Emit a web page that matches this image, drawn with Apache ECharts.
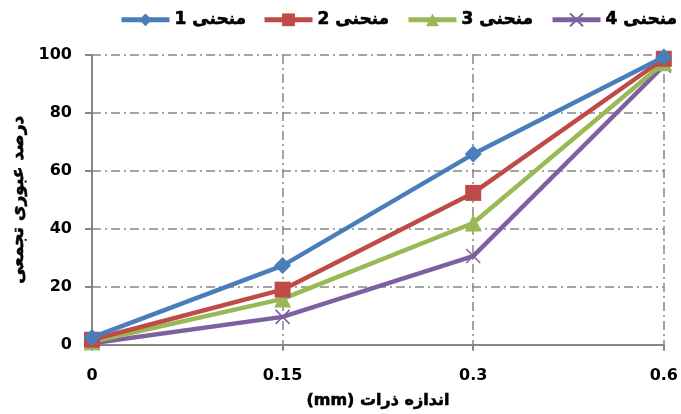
<!DOCTYPE html>
<html>
<head>
<meta charset="utf-8">
<script src="https://cdn.jsdelivr.net/npm/echarts@6/dist/echarts.min.js"></script>
<style>
html,body{margin:0;padding:0;background:#fff;}
#c{width:681px;height:414px;}
</style>
</head>
<body>
<div id="c" dir="rtl"></div>
<script>
const categories = ['0', '0.15', '0.3', '0.6'];
const seriesNames = ['منحنی 1', 'منحنی 2', 'منحنی 3', 'منحنی 4'];
const curve1 = [2.5, 27.3, 65.8, 99.3];
const curve2 = [1.7, 19.0, 52.4, 98.7];
const curve3 = [1.0, 15.8, 42.0, 97.3];
const curve4 = [0.5, 9.6, 30.6, 96.3];
const yTicks = [0, 20, 40, 60, 80, 100];
const xTitle = 'اندازه ذرات (mm)';
const yTitle = 'درصد عبوری تجمعی';

const colors = ['#4A7EBB', '#BE4B48', '#98B954', '#7D60A0'];
const symbols = ['diamond', 'rect', 'triangle', 'path://M0,0L10,10M10,0L0,10'];
const symbolSizes = [17, 16, 17, 14];
const values = [curve1, curve2, curve3, curve4];
const legendLefts = [119, 262, 406, 550];
const FONT = '"DejaVu Sans", "Liberation Sans", sans-serif';
const grid = 'rgba(134,134,134,1)';
const boldText = {fontFamily: FONT, fontWeight: 'bold', fontSize: 16, color: '#000', textBorderColor: '#000', textBorderWidth: 0.6};

const chart = echarts.init(document.getElementById('c'), null, {renderer: 'canvas'});
chart.setOption({
  animation: false,
  backgroundColor: '#fff',
  color: colors,
  legend: seriesNames.map((n, i) => ({
    left: legendLefts[i], top: 11, padding: 0,
    itemWidth: 48, itemHeight: 16, itemGap: 0,
    lineStyle: {width: 5},
    textStyle: Object.assign({}, boldText, {fontSize: 17}),
    data: [n]
  })),
  grid: {left: 92, right: 14, top: 55, bottom: 66, containLabel: false},
  xAxis: {
    type: 'category',
    data: categories,
    boundaryGap: false,
    name: xTitle,
    nameLocation: 'middle',
    nameGap: 48,
    nameTextStyle: boldText,
    axisLine: {lineStyle: {color: grid, width: 2}},
    axisTick: {show: true, alignWithLabel: true, length: 6, inside: false, lineStyle: {color: grid, width: 2}},
    axisLabel: {margin: 23, fontFamily: FONT, fontWeight: 'bold', fontSize: 16, color: '#000'},
    splitLine: {show: true, lineStyle: {color: grid, width: 1.5, type: [9, 4, 2, 4]}}
  },
  yAxis: {
    type: 'value',
    min: 0, max: 100, interval: 20,
    name: yTitle,
    nameLocation: 'middle',
    nameGap: 62,
    nameRotate: 90,
    nameTextStyle: Object.assign({}, boldText, {fontSize: 17}),
    axisLine: {show: true, lineStyle: {color: grid, width: 2}},
    axisTick: {show: true, length: 7, lineStyle: {color: grid, width: 2}},
    axisLabel: {margin: 20, fontFamily: FONT, fontWeight: 'bold', fontSize: 16, color: '#000',
      formatter: v => yTicks.includes(v) ? String(v) : ''},
    splitLine: {show: true, lineStyle: {color: grid, width: 1.5, type: [9, 4, 2, 4]}}
  },
  series: seriesNames.map((n, i) => ({
    name: n,
    type: 'line',
    data: values[i],
    symbol: symbols[i],
    symbolSize: symbolSizes[i],
    showAllSymbol: true,
    lineStyle: {color: colors[i], width: 4.5},
    itemStyle: i === 3
      ? {color: colors[i], borderColor: colors[i], borderWidth: 1.5}
      : {color: colors[i], borderColor: colors[i], borderWidth: 0},
    z: 2 + (3 - i)
  }))
});
</script>
</body>
</html>
